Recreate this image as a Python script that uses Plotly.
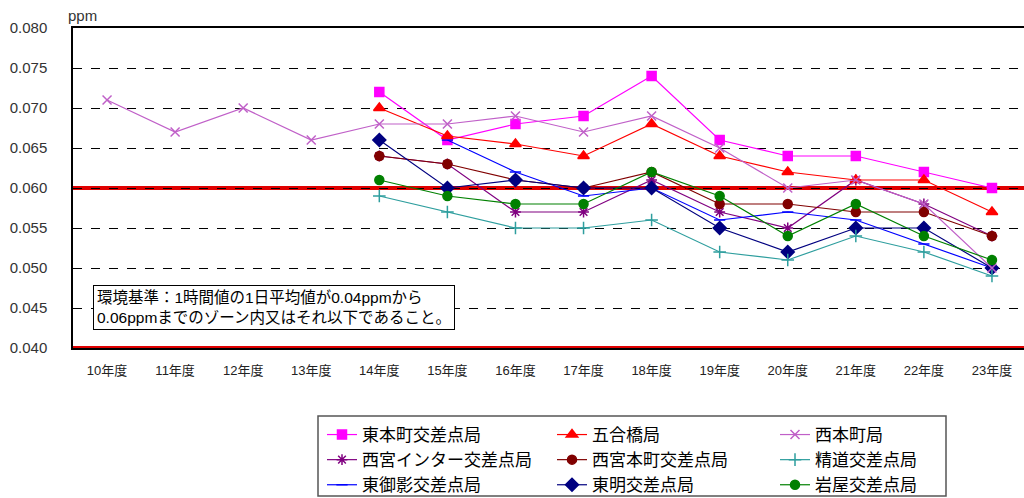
import plotly.graph_objects as go

years = ["10年度", "11年度", "12年度", "13年度", "14年度", "15年度", "16年度",
         "17年度", "18年度", "19年度", "20年度", "21年度", "22年度", "23年度"]

N = None
higashi_honmachi = [N, N, N, N, 0.072, 0.066, 0.068, 0.069, 0.074, 0.066, 0.064, 0.064, 0.062, 0.060]
gogobashi        = [N, N, N, N, 0.070, 0.0665, 0.0655, 0.064, 0.068, 0.064, 0.062, 0.061, 0.061, 0.057]
nishi_honmachi   = [0.071, 0.067, 0.070, 0.066, 0.068, 0.068, 0.069, 0.067, 0.069, 0.065, 0.060, 0.061, 0.058, 0.050]
nishinomiya_ic   = [N, N, N, N, 0.064, 0.063, 0.057, 0.057, 0.061, 0.057, 0.055, 0.061, 0.058, 0.054]
nishinomiya_hon  = [N, N, N, N, 0.064, 0.063, 0.061, 0.060, 0.062, 0.058, 0.058, 0.057, 0.057, 0.054]
seido            = [N, N, N, N, 0.059, 0.057, 0.055, 0.055, 0.056, 0.052, 0.051, 0.054, 0.052, 0.049]
higashi_mikage   = [N, N, N, N, N, 0.066, 0.062, 0.059, 0.060, 0.056, 0.057, 0.056, 0.053, 0.050]
tomei            = [N, N, N, N, 0.066, 0.060, 0.061, 0.060, 0.060, 0.055, 0.052, 0.055, 0.055, 0.050]
iwaya            = [N, N, N, N, 0.061, 0.059, 0.058, 0.058, 0.062, 0.059, 0.054, 0.058, 0.054, 0.051]

series = [
    ("東本町交差点局", higashi_honmachi, "#FF00FF", "square", 9, "legend"),
    ("西宮インター交差点局", nishinomiya_ic, "#800080", "asterisk-open", 9, "legend"),
    ("東御影交差点局", higashi_mikage, "#0000FF", "line-ew-open", 8, "legend"),
    ("五合橋局", gogobashi, "#FF0000", "triangle-up", 10, "legend2"),
    ("西宮本町交差点局", nishinomiya_hon, "#800000", "circle", 9, "legend2"),
    ("東明交差点局", tomei, "#000080", "diamond", 10, "legend2"),
    ("西本町局", nishi_honmachi, "#C060C8", "x-thin-open", 9, "legend3"),
    ("精道交差点局", seido, "#2E9E9E", "cross-thin-open", 9, "legend3"),
    ("岩屋交差点局", iwaya, "#008000", "circle", 9, "legend3"),
]

standard_lines = [0.040, 0.060]
y_ticks = [0.040, 0.045, 0.050, 0.055, 0.060, 0.065, 0.070, 0.075, 0.080]

FONT = "Arial, Liberation Sans, Noto Sans CJK JP"

fig = go.Figure()

for name, vals, color, sym, size, leg in series:
    fig.add_trace(go.Scatter(
        x=list(range(len(years))), y=vals, name=name, mode="lines+markers",
        line=dict(color=color, width=1.2),
        marker=dict(symbol=sym, size=size, color=color, line=dict(color=color, width=1.5)),
        connectgaps=False, legend=leg,
    ))

for v in standard_lines:
    fig.add_shape(type="line", xref="paper", x0=0, x1=1, yref="y", y0=v, y1=v,
                  line=dict(color="#E00000", width=4), layer="between")

W, H = 1024, 498
L, R, T, B = 73, 0, 28, 150
pw = W - L - R
ph = H - T - B

def px(x):
    return (x - L) / pw

def py(y):
    return (H - B - y) / ph

fig.add_annotation(
    text="環境基準：1時間値の1日平均値が0.04ppmから<br>0.06ppmまでのゾーン内又はそれ以下であること。",
    xref="paper", yref="paper", x=px(93), y=py(285), xanchor="left", yanchor="top",
    showarrow=False, align="left", bordercolor="#000000", borderwidth=1, borderpad=3,
    bgcolor="#FFFFFF", font=dict(size=15.5, color="#000000", family=FONT))

fig.add_annotation(text="ppm", xref="paper", yref="paper", x=px(66), y=py(16),
                   xanchor="left", yanchor="middle", showarrow=False,
                   font=dict(size=15, color="#333333", family=FONT))

# legend frame
fig.add_shape(type="rect", xref="paper", yref="paper", x0=px(318), x1=px(946),
              y0=py(496), y1=py(416), line=dict(color="#555555", width=1.5))

leg_common = dict(orientation="v", xanchor="left", yanchor="top", bgcolor="rgba(0,0,0,0)",
                  font=dict(size=17, color="#000000", family=FONT), itemwidth=30,
                  tracegroupgap=0)
fig.update_layout(
    width=W, height=H,
    margin=dict(l=L, r=R, t=T, b=B, autoexpand=False),
    paper_bgcolor="white", plot_bgcolor="white",
    font=dict(family=FONT),
    legend=dict(x=px(322), y=py(417), **leg_common),
    legend2=dict(x=px(552), y=py(417), **leg_common),
    legend3=dict(x=px(775), y=py(417), **leg_common),
    xaxis=dict(range=[-0.5, (W - 108) / 68.0], tickmode="array",
               tickvals=list(range(len(years))), ticktext=years,
               showgrid=False, zeroline=False, showline=True, mirror=True,
               linecolor="#000000", linewidth=1.5, ticks="", ticklabelstandoff=10,
               tickfont=dict(size=13, color="#222222", family=FONT)),
    yaxis=dict(range=[0.040, 0.080], tickmode="array", tickvals=y_ticks,
               tickformat=".3f", showgrid=True, gridcolor="#000000", griddash="dash",
               gridwidth=1, zeroline=False, showline=True, linecolor="#000000",
               linewidth=1.5, ticks="", ticklabelstandoff=21,
               tickfont=dict(size=15, color="#333333", family=FONT)),
)

fig.write_html("out.html")
